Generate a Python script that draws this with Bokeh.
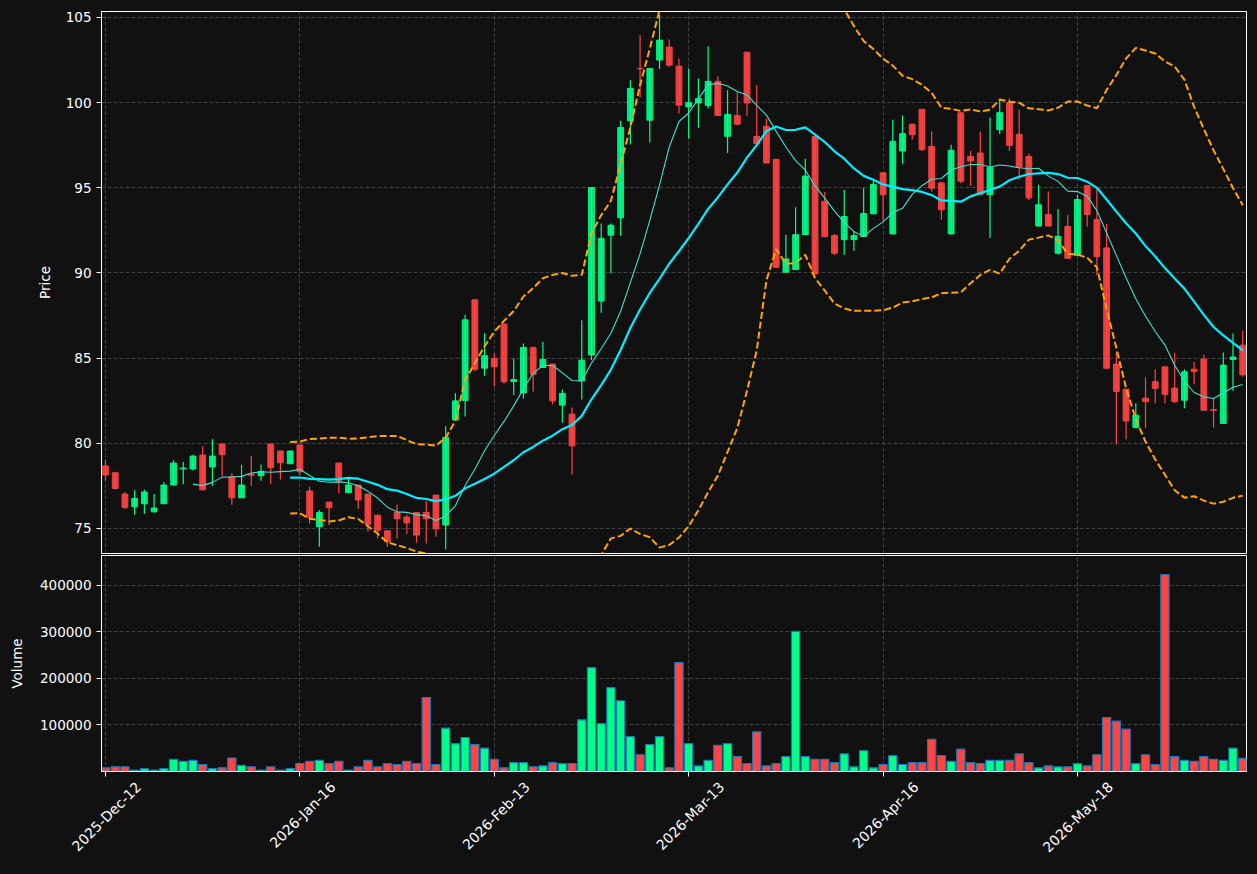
import numpy as np
import pandas as pd
from math import pi
from bokeh.plotting import figure
from bokeh.layouts import column
from bokeh.models import (ColumnDataSource, FixedTicker, Range1d, PrintfTickFormatter,
                          LinearAxis)
from bokeh.embed import file_html
from bokeh.resources import INLINE

opens = [78.67, 78.27, 77.02, 76.27, 76.45, 75.98, 76.45, 77.55, 78.50, 78.49,
         79.31, 78.61, 79.96, 78.04, 76.80, 78.16, 78.10, 79.96, 79.55, 78.80,
         79.90, 77.20, 75.10, 76.55, 78.84, 77.10, 77.55, 77.02, 75.78, 74.86,
         75.94, 75.67, 75.94, 75.94, 76.96, 75.20, 81.37, 82.51, 88.43, 84.41,
         84.98, 87.00, 83.63, 82.96, 85.63, 84.45, 84.65, 82.24, 81.71, 83.67,
         85.18, 88.35, 92.22, 93.24, 98.93, 102.01, 98.97, 102.50, 103.26, 102.14,
         99.75, 99.98, 99.84, 101.25, 98.02, 99.25, 102.96, 98.02, 98.61, 96.67,
         90.04, 90.20, 92.25, 98.02, 94.20, 92.20, 91.96, 91.96, 92.14, 93.47,
         95.88, 92.29, 97.16, 98.73, 99.61, 97.43, 95.29, 92.29, 99.41, 96.84,
         97.04, 94.59, 98.41, 100.00, 98.14, 96.84, 92.75, 93.43, 91.16, 92.73,
         91.02, 95.14, 93.14, 91.47, 84.65, 83.18, 80.92, 82.65, 83.61, 84.49,
         83.24, 82.53, 84.35, 84.94, 81.98, 81.16, 84.92, 85.76]
highs = [79.02, 78.33, 77.14, 77.25, 77.29, 77.02, 77.71, 79.00, 78.90, 79.33,
         79.82, 80.24, 79.96, 78.24, 78.73, 79.25, 78.76, 79.96, 79.55, 79.55,
         79.90, 77.45, 76.08, 76.55, 78.84, 77.94, 77.55, 77.02, 75.78, 74.86,
         76.41, 75.82, 75.94, 76.61, 76.96, 81.02, 82.94, 87.55, 88.43, 86.47,
         85.27, 87.00, 84.98, 85.86, 85.63, 85.96, 84.65, 83.16, 82.10, 87.23,
         95.02, 92.91, 92.91, 98.93, 101.32, 103.96, 102.01, 105.14, 103.71, 102.59,
         102.00, 101.41, 103.31, 101.55, 100.73, 100.63, 102.96, 101.02, 99.06, 96.67,
         92.25, 93.86, 96.71, 98.02, 94.75, 92.29, 94.88, 92.45, 95.00, 95.43,
         95.88, 99.00, 99.25, 98.73, 99.61, 98.31, 95.29, 97.53, 99.41, 97.16,
         98.31, 99.12, 100.20, 100.24, 99.59, 97.00, 95.18, 94.78, 93.76, 93.41,
         94.59, 95.14, 94.94, 92.88, 85.33, 83.18, 82.35, 83.86, 84.35, 84.49,
         85.31, 84.35, 84.78, 85.20, 82.69, 85.33, 86.45, 86.61]
lows = [77.80, 77.29, 76.14, 75.80, 75.86, 75.92, 76.45, 77.51, 77.59, 78.41,
        77.27, 77.51, 78.10, 76.39, 76.80, 77.51, 77.80, 77.59, 77.88, 78.80,
        78.14, 75.29, 73.92, 75.20, 77.06, 77.10, 76.14, 74.80, 74.41, 73.92,
        74.41, 74.67, 74.16, 74.12, 74.51, 73.76, 81.37, 81.57, 84.22, 83.96,
        83.32, 83.51, 82.83, 82.63, 83.02, 84.45, 82.29, 81.20, 78.17, 82.57,
        84.88, 87.66, 89.97, 92.18, 97.54, 100.30, 97.66, 101.97, 102.10, 99.36,
        97.88, 98.53, 99.65, 99.25, 97.04, 98.67, 99.20, 97.59, 96.45, 90.33,
        90.04, 90.20, 92.25, 89.94, 92.14, 91.06, 91.06, 91.31, 92.14, 93.47,
        93.08, 92.29, 96.41, 97.82, 97.16, 94.78, 93.12, 92.29, 95.27, 95.10,
        94.59, 92.06, 98.14, 97.16, 95.47, 94.29, 92.75, 92.75, 91.08, 90.86,
        91.02, 92.73, 89.88, 84.35, 79.94, 80.24, 80.92, 80.88, 82.35, 82.35,
        82.35, 82.06, 83.47, 81.94, 80.92, 81.16, 83.08, 83.90]
closes = [78.14, 77.35, 76.24, 76.76, 77.14, 76.20, 77.55, 78.84, 78.55, 79.25,
          77.27, 79.25, 79.33, 76.80, 77.55, 78.12, 78.35, 78.57, 78.86, 79.55,
          78.33, 75.65, 75.94, 76.22, 77.78, 77.55, 76.67, 75.25, 74.90, 74.22,
          75.57, 75.33, 74.61, 75.57, 74.98, 80.35, 82.49, 87.25, 84.35, 85.14,
          84.49, 83.61, 83.74, 85.63, 84.04, 84.92, 82.49, 82.93, 79.85, 84.88,
          95.02, 92.03, 92.80, 98.54, 100.83, 101.99, 102.01, 103.67, 102.20, 99.85,
          100.00, 100.24, 101.25, 99.25, 99.31, 98.73, 99.98, 97.59, 96.45, 90.33,
          90.82, 92.25, 95.69, 89.94, 92.14, 91.16, 93.31, 92.20, 93.49, 95.20,
          94.59, 97.73, 98.18, 98.12, 97.25, 94.98, 93.71, 97.20, 95.39, 96.57,
          94.59, 96.18, 99.41, 97.49, 96.22, 94.41, 94.00, 92.75, 92.15, 90.86,
          94.31, 93.43, 90.96, 84.41, 83.04, 81.31, 81.65, 82.45, 83.22, 82.88,
          82.45, 84.20, 84.22, 81.94, 81.94, 84.59, 85.06, 84.02]
volumes = [8000, 10000, 10000, 3000, 6000, 3000, 6000, 26000, 22000, 24000,
           15000, 6000, 8000, 29000, 13000, 10000, 3000, 10000, 3000, 6000,
           17000, 22000, 24000, 17000, 22000, 3000, 10000, 24000, 10000, 17000,
           15000, 22000, 17000, 159000, 15000, 93000, 60000, 73000, 58000, 50000,
           26000, 8000, 19000, 19000, 10000, 12000, 19000, 17000, 17000, 111000,
           223000, 103000, 180000, 152000, 75000, 36000, 58000, 75000, 8000, 234000,
           60000, 12000, 24000, 56000, 60000, 32000, 17000, 85000, 12000, 17000,
           32000, 301000, 32000, 26000, 26000, 19000, 38000, 10000, 45000, 8000,
           15000, 34000, 15000, 19000, 19000, 69000, 34000, 22000, 48000, 19000,
           17000, 24000, 24000, 24000, 38000, 19000, 8000, 12000, 10000, 10000,
           17000, 12000, 36000, 116000, 108000, 91000, 17000, 36000, 15000, 423000,
           32000, 24000, 22000, 32000, 26000, 24000, 50000, 28000]

tick_index = [0, 20, 40, 60, 80, 100]
tick_labels = ["2025-Dec-12", "2026-Jan-16", "2026-Feb-13", "2026-Mar-13", "2026-Apr-16", "2026-May-18"]
price_ticks = [75, 80, 85, 90, 95, 100, 105]
volume_ticks = [100000, 200000, 300000, 400000]

BG = "#111111"
GRID = "#404040"
UP = "#00ff88"
DOWN = "#ff4444"
FONT = "DejaVu Sans"

df = pd.DataFrame({"open": opens, "high": highs, "low": lows, "close": closes, "volume": volumes})
df["x"] = np.arange(len(df))
df["top"] = df[["open", "close"]].max(axis=1)
df["bottom"] = df[["open", "close"]].min(axis=1)
df["color"] = np.where(df["close"] >= df["open"], UP, DOWN)
df["ma10"] = df["close"].rolling(10).mean()
df["ma20"] = df["close"].rolling(20).mean()
std20 = df["close"].rolling(20).std()
df["upper"] = df["ma20"] + 2 * std20
df["lower"] = df["ma20"] - 2 * std20

src = ColumnDataSource(df)

x_range = Range1d(-0.41, 117.39)


def style(p):
    p.background_fill_color = BG
    p.border_fill_color = BG
    p.outline_line_color = "white"
    p.outline_line_width = 1
    for ax in p.axis:
        ax.axis_line_color = "white"
        ax.major_tick_line_color = "white"
        ax.major_tick_out = 5
        ax.major_tick_in = 0
        ax.minor_tick_line_color = None
        ax.major_label_text_color = "white"
        ax.major_label_text_font = FONT
        ax.major_label_text_font_size = "13.5px"
        ax.axis_label_text_color = "white"
        ax.axis_label_text_font = FONT
        ax.axis_label_text_font_size = "13.5px"
        ax.axis_label_text_font_style = "normal"
    for g in p.grid:
        g.grid_line_color = GRID
        g.grid_line_dash = "4 2"
        g.grid_line_width = 1


p1 = figure(width=1257, height=554, x_range=x_range, y_range=Range1d(73.53, 105.35),
            output_backend="svg", toolbar_location=None,
            min_border_left=101, min_border_right=11, min_border_top=11, min_border_bottom=1)
p1.segment(x0="x", y0="low", x1="x", y1="high", color="color", line_width=1.2, source=src)
p1.vbar(x="x", top="top", bottom="bottom", width=0.6, fill_color="color",
        line_color="color", line_width=1, fill_alpha=0.9, line_alpha=0.9, source=src)
p1.line("x", "ma10", color="#40e0d0", line_width=1.1, source=src)
p1.line("x", "ma20", color="#00eeff", line_width=2.2, source=src)
p1.line("x", "upper", color="#ffa500", line_width=2, line_dash="7 3", source=src)
p1.line("x", "lower", color="#ffa500", line_width=2, line_dash="7 3", source=src)
p1.yaxis.ticker = FixedTicker(ticks=price_ticks)
p1.yaxis.axis_label = "Price"
p1.xaxis.visible = False
p1.xgrid.ticker = FixedTicker(ticks=tick_index)
style(p1)
p1.yaxis.axis_label_standoff = 10

p2 = figure(width=1257, height=312, x_range=x_range, y_range=Range1d(0, 464000),
            output_backend="svg", toolbar_location=None,
            min_border_left=101, min_border_right=11, min_border_top=1, min_border_bottom=95)
p2.vbar(x="x", top="volume", bottom=0, width=0.85, fill_color="color",
        line_color="#1f77b4", line_width=1.2, source=src)
p2.yaxis.ticker = FixedTicker(ticks=volume_ticks)
p2.yaxis.formatter = PrintfTickFormatter(format="%d")
p2.yaxis.axis_label = "Volume"
# tick marks only; the date labels come from a second axis, centred under each tick
p2.xaxis.ticker = FixedTicker(ticks=tick_index)
p2.xaxis.major_label_overrides = {i: "" for i in tick_index}
style(p2)
p2.xaxis.major_label_text_font_size = "1px"
p2.xaxis.major_label_standoff = 0
p2.yaxis.axis_label_standoff = 12

shift = 3.4
label_ticks = [i + shift for i in tick_index]
lab_axis = LinearAxis(ticker=FixedTicker(ticks=label_ticks),
                      major_label_overrides={t: l for t, l in zip(label_ticks, tick_labels)},
                      major_label_orientation=pi / 4,
                      axis_line_color=None, major_tick_line_color=None,
                      minor_tick_line_color=None,
                      major_label_text_color="white", major_label_text_font=FONT,
                      major_label_text_font_size="14px", major_label_standoff=2)
p2.add_layout(lab_axis, "below")

layout = column(p1, p2, spacing=0)
layout.styles = {"background-color": BG}

html = file_html(layout, INLINE)
html = html.replace("<body>", "<body style=\"background-color:#111111;\">")
open("out.html", "w").write(html)
